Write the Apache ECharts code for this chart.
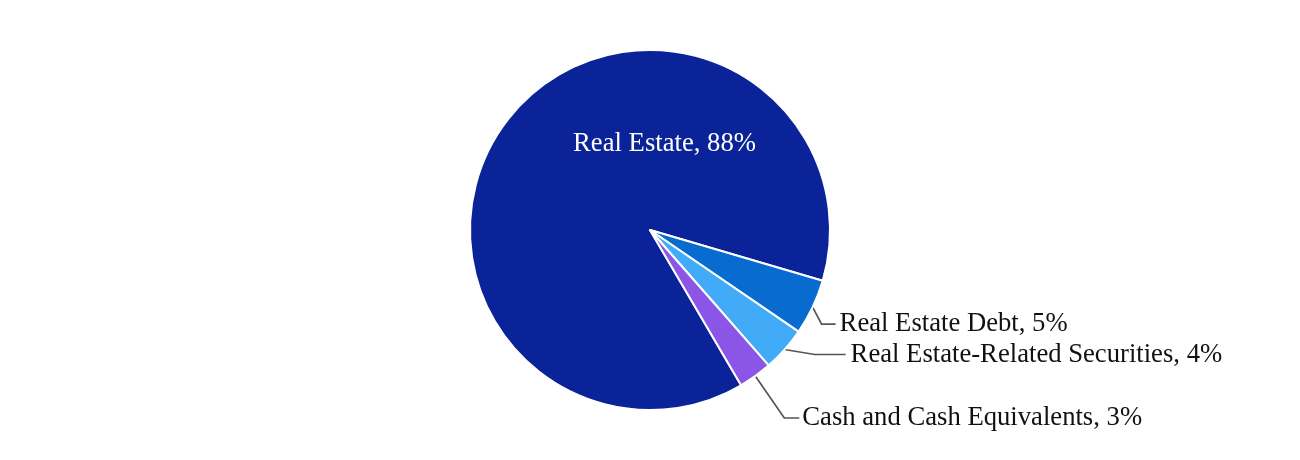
<!DOCTYPE html>
<html>
<head>
<meta charset="utf-8">
<script src="https://cdn.jsdelivr.net/npm/echarts@6/dist/echarts.min.js"></script>
<style>
html,body{margin:0;padding:0;background:#fff;}
#chart{width:1300px;height:460px;}
</style>
</head>
<body>
<div id="chart"></div>
<script>
// ---- data ----
const categories = ['Real Estate', 'Real Estate Debt', 'Real Estate-Related Securities', 'Cash and Cash Equivalents'];
const values = [88, 5, 4, 3];

// ---- style ----
const colors = ['#0b2399', '#086bd0', '#41abf8', '#8b55e8'];
const START_ANGLE = -59.6;
const RADIUS = 180;
const FONT = 'Liberation Serif';
const FONT_SIZE = 26.67;
// per-slice guide: [bend dx, bend dy, horizontal length, text gap] relative to slice edge point
const guides = [null, [9, 17, 14, 4], [30, 5, 31, 5], [29, 42, 15, 3]];
// inside label offset from pie centre
const insideOffset = [14.5, -86];

const chart = echarts.init(document.getElementById('chart'), null, {renderer: 'canvas'});
const total = values.reduce((a, b) => a + b, 0);

function edgePoint(idx) {
  const cx = chart.getWidth() / 2, cy = chart.getHeight() / 2;
  let cum = 0;
  for (let i = 0; i < idx; i++) cum += values[i];
  const mid = (START_ANGLE - (cum + values[idx] / 2) / total * 360) * Math.PI / 180;
  return [cx + RADIUS * Math.cos(mid), cy - RADIUS * Math.sin(mid)];
}

const data = categories.map((name, i) => ({
  name: name,
  value: values[i],
  itemStyle: {color: colors[i]},
  label: i === 0
    ? {position: 'inside', color: '#fff'}
    : {position: 'outside', color: '#111'},
  labelLine: {show: i !== 0}
}));

chart.setOption({
  animation: false,
  backgroundColor: '#fff',
  series: [{
    type: 'pie',
    center: ['50%', '50%'],
    radius: [0, RADIUS],
    startAngle: START_ANGLE,
    clockwise: true,
    avoidLabelOverlap: false,
    data: data,
    itemStyle: {borderColor: '#fff', borderWidth: 2},
    label: {
      show: true,
      fontFamily: FONT,
      fontSize: FONT_SIZE,
      formatter: p => p.name + ', ' + p.value + '%'
    },
    labelLine: {
      show: true,
      lineStyle: {color: '#555', width: 1.7}
    },
    labelLayout: function (params) {
      const i = params.dataIndex;
      const cx = chart.getWidth() / 2, cy = chart.getHeight() / 2;
      if (i === 0) {
        return {x: cx + insideOffset[0], y: cy + insideOffset[1], align: 'center', verticalAlign: 'middle'};
      }
      const g = guides[i];
      const p0 = edgePoint(i);
      const p1 = [p0[0] + g[0], p0[1] + g[1]];
      const p2 = [p1[0] + g[2], p1[1]];
      return {
        x: p2[0] + g[3],
        y: p2[1],
        align: 'left',
        verticalAlign: 'middle',
        labelLinePoints: [p0, p1, p2]
      };
    }
  }]
});
</script>
</body>
</html>
